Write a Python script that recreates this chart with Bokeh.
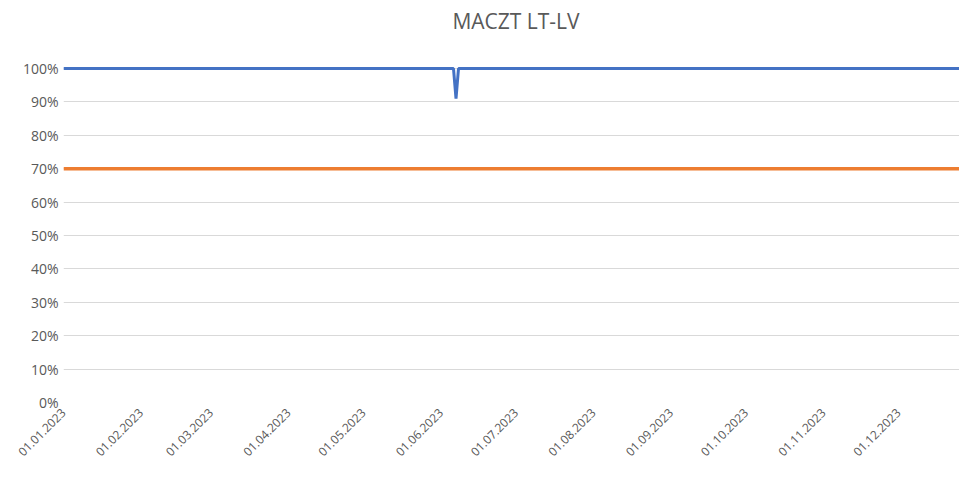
import math
import pandas as pd
from bokeh.plotting import figure
from bokeh.models import Range1d, FixedTicker, NumeralTickFormatter, DatetimeTickFormatter, Label
from bokeh.embed import file_html
from bokeh.resources import INLINE

# ---- data ----
title_text = "MACZT LT-LV"
blue_dates = ["2023-01-01", "2023-06-06", "2023-06-07", "2023-06-08", "2023-12-31"]
blue_values = [1.00, 1.00, 0.91, 1.00, 1.00]
orange_dates = ["2023-01-01", "2023-12-31"]
orange_values = [0.70, 0.70]
month_ticks = ["2023-01-01", "2023-02-01", "2023-03-01", "2023-04-01", "2023-05-01", "2023-06-01",
               "2023-07-01", "2023-08-01", "2023-09-01", "2023-10-01", "2023-11-01", "2023-12-01"]
y_ticks = [0.0, 0.1, 0.2, 0.3, 0.4, 0.5, 0.6, 0.7, 0.8, 0.9, 1.0]

bx = pd.to_datetime(blue_dates)
ox = pd.to_datetime(orange_dates)
tick_ms = [pd.Timestamp(d).value / 1e6 for d in month_ticks]

FONT = "Open Sans"
GREY = "#595959"

x_start = pd.Timestamp("2023-01-01")
x_end = x_start + pd.Timedelta(days=358.4)

# plot area extends to the top so the title can sit inside it, above the 100% gridline
p = figure(width=959, height=463, x_axis_type="datetime", output_backend="svg",
           toolbar_location=None,
           x_range=Range1d(x_start, x_end),
           y_range=Range1d(0, 1.18),
           min_border_left=63, min_border_right=0, min_border_top=8, min_border_bottom=58)

title = Label(x=(x_start + pd.Timedelta(days=181)).value / 1e6, y=1.144,
              x_units="data", y_units="data", text=title_text,
              text_align="center", text_baseline="middle",
              text_font=FONT, text_font_size="21px", text_color=GREY)
p.add_layout(title)

xaxis = p.below[0]
yaxis = p.left[0]

xaxis.ticker = FixedTicker(ticks=tick_ms)
xaxis.formatter = DatetimeTickFormatter(days="%d.%m.%Y", months="%d.%m.%Y", years="%d.%m.%Y")
xaxis.major_label_orientation = math.pi / 4
xaxis.major_label_text_font_size = "12px"
xaxis.major_label_standoff = 8

yaxis.ticker = FixedTicker(ticks=y_ticks)
yaxis.formatter = NumeralTickFormatter(format="0%")
yaxis.major_label_text_font_size = "14px"

for ax in (xaxis, yaxis):
    ax.axis_line_color = None
    ax.major_tick_line_color = None
    ax.minor_tick_line_color = None
    ax.major_label_text_font = FONT
    ax.major_label_text_color = GREY
    ax.major_tick_out = 0
    ax.major_tick_in = 0

p.outline_line_color = None
p.xgrid.grid_line_color = None
p.ygrid.grid_line_color = "#D9D9D9"
p.ygrid.grid_line_width = 1

p.line(ox, orange_values, line_color="#ED7D31", line_width=3.5)
p.line(bx, blue_values, line_color="#4472C4", line_width=3)

open("out.html", "w").write(file_html(p, INLINE))
